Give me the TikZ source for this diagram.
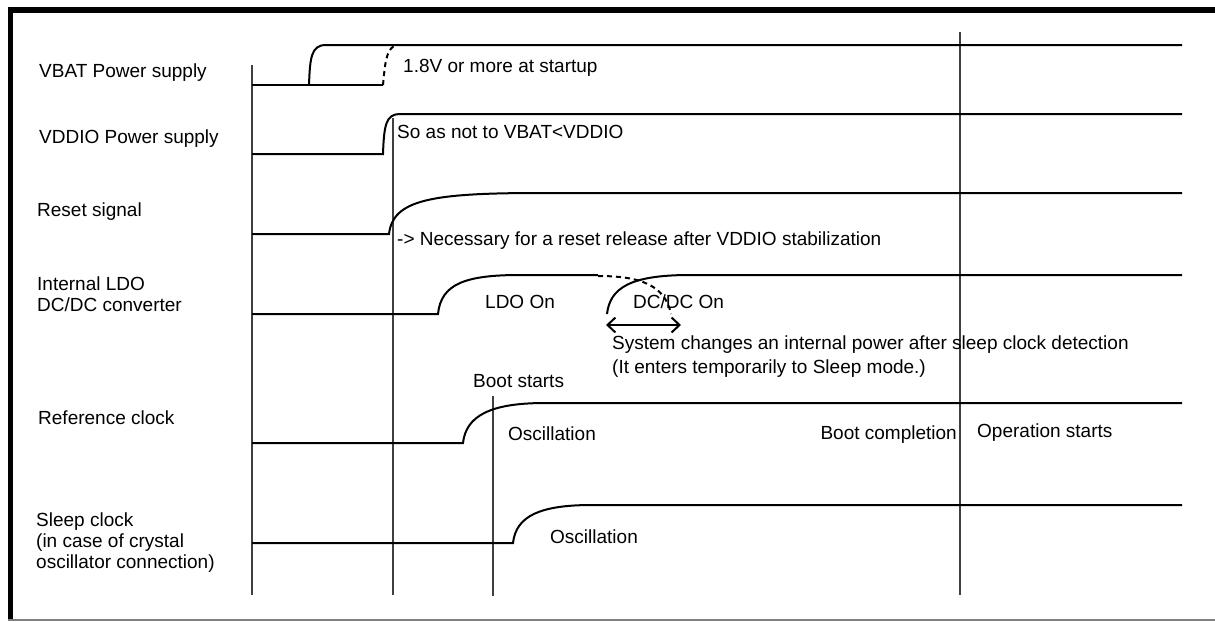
\documentclass[tikz,border=0pt]{standalone}
\usepackage{fontspec}
\setmainfont{Liberation Sans}
\usetikzlibrary{arrows.meta}
\begin{document}
\begin{tikzpicture}[x=1pt,y=-1pt,
  sig/.style={line width=2pt, line cap=butt},
  dsig/.style={line width=2pt, dash pattern=on 5pt off 4pt},
  vline/.style={line width=1.1pt, black!75},
  lbl/.style={anchor=base west, inner sep=0pt, font=\fontsize{19pt}{21pt}\selectfont}]
\useasboundingbox (0,0) rectangle (1215,621);
% frame
\fill (8,7) rectangle (1215,13);
\fill (8,7) rectangle (13,621);
\draw[gray, line width=1.5pt] (8,620) -- (1215,620);

% vertical time markers
\draw[vline] (252,65) -- (252,595);
\draw[vline] (393,118) -- (393,595);
\draw[vline] (493,396) -- (493,596);
\draw[vline] (960,32) -- (960,595);

% left labels
\node[lbl] (lvbat) at (39,77) {VBAT Power supply};
\node[lbl] (lvddio) at (39,143) {VDDIO Power supply};
\node[lbl] (lreset) at (37,216) {Reset signal};
\node[lbl] (lldo) at (37,290) {Internal LDO};
\node[lbl] (ldcdc) at (37,311) {DC/DC converter};
\node[lbl] (lref) at (38,424) {Reference clock};
\node[lbl] (lsleepa) at (36,526) {Sleep clock};
\node[lbl] (lsleepb) at (36,547) {(in case of crystal};
\node[lbl] (lsleepc) at (36,568) {oscillator connection)};

% VBAT
\draw[sig] (252,85) -- (383,85);
\draw[sig] (309,85) .. controls (310,58) and (311,45) .. (326,45) -- (1182,45);
\draw[dsig] (383,85) .. controls (385,64) and (386,51) .. (394,46);
\node[lbl] (t18) at (403,72) {1.8V or more at startup};

% VDDIO
\draw[sig] (252,154) -- (383,154) .. controls (384,125) and (386,114) .. (400,114) -- (1182,114);
\node[lbl] (tvddio) at (397,138) {So as not to VBAT<VDDIO};

% Reset
\draw[sig] (252,234) -- (389,234) .. controls (393,200) and (430,193) .. (540,193) -- (1182,193);
\node[lbl] (treset) at (397,245) {-> Necessary for a reset release after VDDIO stabilization};

% LDO / DC-DC
\draw[sig] (252,314) -- (438,314) .. controls (441,284) and (465,275) .. (520,275) -- (598,275);
\draw[dsig] (598,276) .. controls (640,276) and (665,285) .. (671,314);
\draw[sig] (607,314) .. controls (610,288) and (630,275) .. (690,275) -- (1182,275);
\node[lbl] (tldo) at (485,308) {LDO On};
\node[lbl] (tdcdc) at (633,308) {DC/DC On};
\coordinate (arl) at (606,325);
\coordinate (arr) at (681,325);
\draw[line width=2pt, {Straight Barb[length=8pt,width=15pt]}-{Straight Barb[length=8pt,width=15pt]}] (arl) -- (arr);
\node[lbl] (tsys) at (612,349) {System changes an internal power after sleep clock detection};
\node[lbl] (tsys2) at (612,373) {(It enters temporarily to Sleep mode.)};

% Reference clock
\node[lbl] (tboot) at (473,387) {Boot starts};
\draw[sig] (252,443) -- (463,443) .. controls (466,416) and (490,403) .. (545,403) -- (1182,403);
\node[lbl] (tosc1) at (508,440) {Oscillation};
\node[lbl, anchor=base east] (tbootc) at (957,439) {Boot completion};
\node[lbl] (topst) at (977,437) {Operation starts};

% Sleep clock
\draw[sig] (252,543) -- (513,543) .. controls (516,516) and (540,505) .. (592,505) -- (1182,505);
\node[lbl] (tosc2) at (550,543) {Oscillation};
\end{tikzpicture}
\end{document}
